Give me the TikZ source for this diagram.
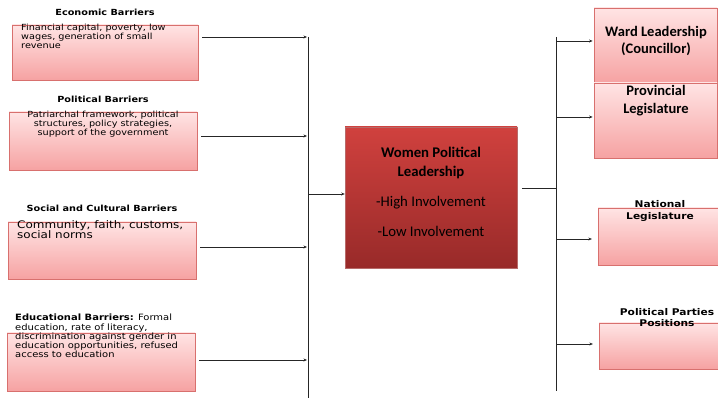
\documentclass[tikz,border=0pt]{standalone}
\usepackage{fontspec}
\setmainfont{Carlito}
\newfontfamily\verd[FakeStretch=1.15]{DejaVu Sans}
\usetikzlibrary{arrows.meta,fit,shadows}
\definecolor{pinktop}{HTML}{FFE4E4}
\definecolor{pinkbot}{HTML}{F6A2A2}
\definecolor{pinkedge}{HTML}{D8706E}
\definecolor{redtop}{HTML}{D0413E}
\definecolor{redbot}{HTML}{982A29}

\begin{document}
\begin{tikzpicture}[x=0.03cm,y=-0.03cm,
  barrier/.style={draw=pinkedge,top color=pinktop,bottom color=pinkbot,inner sep=0pt,
    drop shadow={shadow xshift=0.8pt,shadow yshift=-0.8pt,opacity=0.25}},
  leader/.style={draw=redbot!70,top color=redtop,bottom color=redbot,inner sep=0pt,
    drop shadow={shadow xshift=1pt,shadow yshift=-1pt,opacity=0.3}},
  head/.style={font=\verd\bfseries\fontsize{7.2}{8}\selectfont,align=center},
  small/.style={font=\verd\fontsize{7.2}{7.8}\selectfont,align=left,anchor=north west,inner sep=0pt},
  big/.style={font=\bfseries\fontsize{12.6}{17}\selectfont,align=center},
  arr/.style={-{Stealth[length=3pt,width=2.5pt]},black!85,line width=0.5pt}]
  \useasboundingbox (0,0) rectangle (718,400);
  % Barrier boxes (left)
  \node[barrier,fit={(12,25) (198,80)}] (econ) {};
  \node[barrier,fit={(9,112) (197,170)}] (polit) {};
  \node[barrier,fit={(8,222) (196,279)}] (social) {};
  \node[barrier,fit={(7,333) (195,391)}] (educ) {};
  % Titles and texts
  \node[head] (econhead) at (105,12) {Economic Barriers};
  \node[small] (econtxt) at (21,24) {Financial capital, poverty, low\\wages, generation of small\\revenue};
  \node[head] (polithead) at (103,99) {Political Barriers};
  \node[small,align=center,anchor=north] (polittxt) at (103,111) {Patriarchal framework, political\\structures, policy strategies,\\support of the government};
  \node[head] (socialhead) at (102,208) {Social and Cultural Barriers};
  \node[small,font=\verd\fontsize{8.9}{9}\selectfont] (socialtxt) at (17,220) {Community, faith, customs,\\social norms};
  \node[small,font=\verd\fontsize{7.4}{7.9}\selectfont] (eductxt) at (15,314) {\textbf{Educational Barriers:} Formal\\education, rate of literacy,\\discrimination against gender in\\education opportunities, refused\\access to education};
  % Centre box
  \node[leader,fit={(345,127) (517,268)}] (women) {};
  \node[big] (womentxt) at (431,163) {Women Political\\Leadership};
  \node[font=\fontsize{12.6}{17}\selectfont] (high) at (431,203) {-High Involvement};
  \node[font=\fontsize{12.6}{17}\selectfont] (low) at (431,231) {-Low Involvement};
  % Leadership boxes (right)
  \node[barrier,fit={(594,8) (717,83)}] (ward) {};
  \node[barrier,fit={(594,83) (717,158)}] (prov) {};
  \node[barrier,fit={(598,208) (718,265)}] (natl) {};
  \node[barrier,fit={(599,323) (718,369)}] (party) {};
  \node[big,font=\bfseries\fontsize{12.4}{15.3}\selectfont] (wardtxt) at (656,41) {Ward Leadership\\(Councillor)};
  \node[big,font=\bfseries\fontsize{12.4}{15.3}\selectfont] (provtxt) at (656,101) {Provincial\\Legislature};
  \node[head,font=\verd\bfseries\fontsize{7.9}{11}\selectfont] (natltxt) at (660,211) {National\\Legislature};
  \node[head,font=\verd\bfseries\fontsize{7.9}{9.4}\selectfont] (partytxt) at (667,318) {Political Parties\\Positions};
  % Left bus
  \coordinate (lbtop) at (308,37);
  \coordinate (lbbot) at (308,398);
  \draw[black!85,line width=0.6pt] (lbtop) -- (lbbot);
  \coordinate (l1) at (307,37);
  \coordinate (l2) at (307,136);
  \coordinate (l3) at (307,247);
  \coordinate (l4) at (307,360);
  \coordinate (l0) at (308,194);
  \draw[arr,shorten <=3.4pt] (econ.east |- l1) -- (l1);
  \draw[arr,shorten <=3.4pt] (polit.east |- l2) -- (l2);
  \draw[arr,shorten <=3.4pt] (social.east |- l3) -- (l3);
  \draw[arr,shorten <=3.4pt] (educ.east |- l4) -- (l4);
  \draw[arr] (l0) -- (women.west |- l0);
  % Right bus
  \coordinate (rbtop) at (556,37);
  \coordinate (rbbot) at (556,391);
  \coordinate (r0) at (556,188);
  \draw[black!85,line width=0.6pt] (rbtop) -- (rbbot);
  \draw[black!85,line width=0.5pt,shorten <=4pt] (women.east |- r0) -- (r0);
  \coordinate (r1) at (556,41);
  \coordinate (r2) at (556,117);
  \coordinate (r3) at (556,239);
  \coordinate (r4) at (556,344);
  \draw[arr,shorten >=1pt] (r1) -- (ward.west |- r1);
  \draw[arr,shorten >=1pt] (r2) -- (prov.west |- r2);
  \draw[arr,shorten >=5pt] (r3) -- (natl.west |- r3);
  \draw[arr,shorten >=5pt] (r4) -- (party.west |- r4);
\end{tikzpicture}
\end{document}
